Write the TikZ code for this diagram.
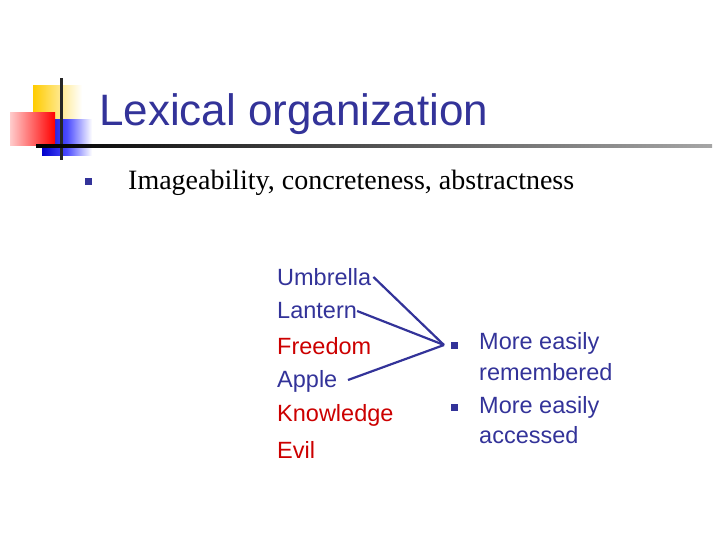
\documentclass[tikz,border=0pt]{standalone}
\usepackage{fontspec}
\setmainfont{Liberation Sans}
\newfontfamily\seriff{Liberation Serif}
\definecolor{navy}{RGB}{51,51,153}
\definecolor{dred}{RGB}{204,0,0}
\definecolor{yel}{RGB}{255,204,0}
\begin{document}
\begin{tikzpicture}[x=1pt,y=-1pt,
  word/.style={anchor=west,inner sep=0pt,font=\fontsize{23.5}{23.5}\selectfont},
  bul/.style={fill=navy,minimum size=7pt,inner sep=0pt},
  link/.style={navy,line width=2.2pt}]
\useasboundingbox (0,0) rectangle (720,540);
% logo
\shade[left color=yel,right color=white] (33,86) rectangle (82,130);
\shade[left color=blue!80!black,right color=white,middle color=blue!70] (42,120) rectangle (92,156);
\shade[left color=red!20,right color=red] (10,113) rectangle (55,146);
\fill[black!85] (60,78) rectangle (62.5,160);
\shade[left color=black,right color=black!35] (36,145) rectangle (712,148);
\node[anchor=base west,inner sep=0pt,text=navy,font=\fontsize{44}{44}\selectfont] (title) at (99,126) {Lexical organization};
\node[bul] (b0) at (88,182) {};
\node[anchor=base west,inner sep=0pt,font=\seriff\fontsize{28}{28}\selectfont] (sub) at (128,190) {Imageability, concreteness, abstractness};
\node[word,text=navy] (w1) at (277,277) {Umbrella};
\node[word,text=navy] (w2) at (277,311) {Lantern};
\node[word,text=dred] (w3) at (277,346) {Freedom};
\node[word,text=navy] (w4) at (277,381) {Apple};
\node[word,text=dred] (w5) at (277,415) {Knowledge};
\node[word,text=dred] (w6) at (277,450) {Evil};
\coordinate (m) at (444,345);
\draw[link] (w1.east) ++(2,0) -- (m);
\draw[link] (w2.east) -- (m);
\draw[link] (348,380) -- (m);
\node[bul] (b1) at (454,345) {};
\node[bul] (b2) at (454,407) {};
\node[word,text=navy] (t1) at (479,343) {More easily};
\node[word,text=navy] (t1b) at (479,372) {remembered};
\node[word,text=navy] (t2) at (479,407) {More easily};
\node[word,text=navy] (t2b) at (479,435) {accessed};
\end{tikzpicture}
\end{document}
